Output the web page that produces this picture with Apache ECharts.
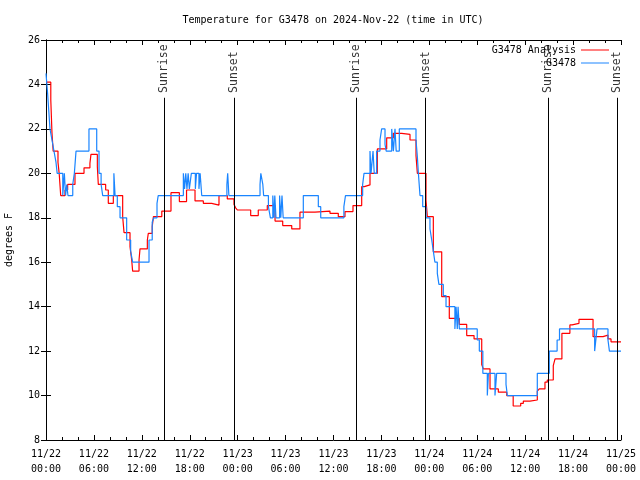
<!DOCTYPE html>
<html><head><meta charset="utf-8">
<script src="https://cdn.jsdelivr.net/npm/echarts@6.0.0/dist/echarts.min.js"></script>
<style>html,body{margin:0;padding:0;background:#fff}#c{width:640px;height:480px}</style>
</head><body><div id="c"></div>
<script>
const FONT = '"DejaVu Sans Mono", "Liberation Mono", monospace';
const titleText = 'Temperature for G3478 on 2024-Nov-22 (time in UTC)';
const xTickLabels = ['11/22\n00:00','11/22\n06:00','11/22\n12:00','11/22\n18:00','11/23\n00:00','11/23\n06:00','11/23\n12:00','11/23\n18:00','11/24\n00:00','11/24\n06:00','11/24\n12:00','11/24\n18:00','11/25\n00:00'];
// hours since 2024-11-22 00:00 UTC
const redT = [0,0.6,0.75,0.9,1.5,1.65,1.84,2.38,2.71,3.63,4.76,5.5,5.63,6.43,6.55,7.47,7.8,8.43,9.6,9.77,10.52,10.73,10.85,11.65,11.77,12.69,12.81,13.3,13.45,14.5,15.65,16.7,17.6,18.66,19.7,20.75,21.66,22.7,23.54,23.75,23.96,25.63,26.58,27.71,28.68,29.64,30.77,31.8,33.68,35.56,36.6,37.44,38.44,39.53,39.85,40.57,41.49,42.66,43.49,44.54,45.58,46.33,46.5,47.58,47.75,48.5,49.55,50.5,51.75,52.68,53.6,54.56,54.76,55.6,56.64,57.69,58.5,59.44,59.77,60.6,61.52,61.77,62.48,62.77,63.52,63.74,64.6,65.6,65.87,66.74,68.5,69.75,70.37,70.75,72];
const redV = [24.1,23.3,21.8,21.0,20.5,20.0,19.0,19.25,19.5,20.0,20.25,20.45,20.85,20.3,19.5,19.25,18.65,19.0,18.05,17.33,16.7,16.1,15.6,16.1,16.6,17.0,17.3,17.6,18.05,18.3,19.13,18.73,19.25,18.76,18.65,18.57,19.0,18.85,18.6,18.45,18.35,18.1,18.35,18.55,17.85,17.65,17.5,18.25,18.3,18.2,18.05,18.28,18.55,19.4,19.48,20.0,21.1,21.6,21.8,21.75,21.5,20.8,20.0,18.8,18.05,16.47,14.45,13.47,13.2,12.7,12.55,11.4,11.2,10.3,10.15,10.0,9.53,9.65,9.75,9.8,10.2,10.3,10.6,10.7,11.35,11.65,12.8,13.18,13.25,13.43,12.65,12.72,12.55,12.42,12.42];
const blueT = [0,0.2,0.35,0.5,0.75,1.0,1.25,1.4,2.1,2.3,2.45,2.6,2.75,3.35,3.55,3.76,5.38,6.35,6.64,6.9,7.1,8.5,8.65,8.93,9.27,10.1,10.6,10.85,12.9,13.3,13.5,13.9,14.05,17.2,17.35,17.5,17.65,17.8,17.95,18.2,18.7,18.85,19.15,19.3,19.5,22.65,22.75,22.9,26.8,26.9,27.15,27.25,27.85,28.1,28.4,28.55,28.65,28.8,29.25,29.4,29.55,29.7,32.22,34.1,34.4,37.3,37.5,39.65,39.82,40.57,40.7,40.95,41.1,41.4,41.82,42.03,42.45,42.6,43.29,43.5,43.7,43.85,44.24,46.33,46.5,46.63,46.83,47.17,47.58,48.08,48.3,48.5,48.7,49.0,49.2,49.75,50.09,51.2,51.35,51.5,51.6,51.76,54.0,54.26,54.7,55.26,55.4,56.22,56.43,57.6,57.77,61.52,63.02,64.0,64.3,68.7,68.85,69.0,70.37,70.55,72];
const blueV = [24.5,23.6,22.8,22.0,21.5,21.0,20.5,20.0,19.0,20.0,19.0,19.5,19.0,19.5,20.0,21.0,22.0,21.0,20.0,19.5,19.0,20.0,19.0,18.5,18.0,17.0,16.5,16.0,17.0,17.8,18.0,18.65,19.0,20.0,19.3,20.0,19.3,20.0,19.3,20.0,19.3,20.0,19.3,20.0,19.0,19.5,20.0,19.0,19.5,20.0,19.5,19.0,18.5,18.0,19.0,18.0,19.0,18.0,19.0,18.0,19.0,18.0,19.0,18.5,18.0,18.5,19.0,19.5,20.0,21.0,20.0,21.0,20.0,21.0,21.5,22.0,21.3,21.0,22.0,21.0,22.0,21.0,22.0,21.5,20.75,20.0,19.0,18.5,18.0,17.5,17.0,16.5,16.0,15.5,15.0,14.5,14.0,13.0,14.0,13.0,14.0,13.0,12.5,12.0,11.0,10.0,11.0,10.0,11.0,10.5,10.0,11.0,12.0,12.5,13.0,12.0,12.5,13.0,12.5,12.0,12.0];
const sunNames = ['Sunrise','Sunset','Sunrise','Sunset','Sunrise','Sunset'];
const sunT = [14.81,23.58,38.86,47.54,62.9,71.56];
const sunLabelY = 23.62, sunLineTop = 23.4;

const txt = {fontFamily: FONT, fontSize: 10, color: '#000'};
const axLine = {show: true, lineStyle: {color: '#000', width: 1}};
const chart = echarts.init(document.getElementById('c'), null, {renderer: 'canvas'});
const xBase = {type: 'value', min: 0, max: 72, interval: 6, axisLine: axLine, splitLine: {show: false},
  axisTick: {show: true, inside: true, length: 5, lineStyle: {color: '#000'}},
  minorTick: {show: true, splitNumber: 3, length: 3, lineStyle: {color: '#000'}}};
const yBase = {type: 'value', min: 8, max: 26, interval: 2, axisLine: axLine, splitLine: {show: false},
  axisTick: {show: true, inside: true, length: 5, lineStyle: {color: '#000'}}};
chart.setOption({
  animation: false,
  backgroundColor: '#fff',
  title: {text: titleText, left: 328, top: 10, textAlign: 'center', textStyle: Object.assign({}, txt, {fontWeight: 'normal'})},
  grid: {left: 46, right: 19, top: 40, bottom: 40, containLabel: false, outerBoundsMode: 'none'},
  legend: [
    {data: [{name: 'G3478 Analysis', icon: 'rect'}], right: 26, top: 40, align: 'right', itemWidth: 28, itemHeight: 1, textStyle: txt},
    {data: [{name: 'G3478', icon: 'rect'}], right: 26, top: 53, align: 'right', itemWidth: 28, itemHeight: 1, textStyle: txt}
  ],
  xAxis: [
    Object.assign({}, xBase, {position: 'bottom', axisLabel: Object.assign({}, txt, {margin: 7, lineHeight: 15, formatter: v => xTickLabels[Math.round(v / 6)]})}),
    Object.assign({}, xBase, {position: 'top', axisLabel: {show: false}})
  ],
  yAxis: [
    Object.assign({}, yBase, {position: 'left', name: 'degrees F', nameLocation: 'middle', nameGap: 32, nameTextStyle: txt, axisLabel: Object.assign({}, txt, {margin: 6})}),
    Object.assign({}, yBase, {position: 'right', axisLabel: {show: false}})
  ],
  series: [
    {name: 'G3478 Analysis', type: 'line', step: 'end', symbol: 'none', color: '#ff0000', lineStyle: {width: 1.2, color: '#ff0000'},
      data: redT.map((t, i) => [t, redV[i]])},
    {name: 'G3478', type: 'line', step: 'end', symbol: 'none', color: '#1a85ff', lineStyle: {width: 1.2, color: '#1a85ff'},
      data: blueT.map((t, i) => [t, blueV[i]])},
    {name: 'sun', type: 'scatter', symbolSize: 0, silent: true,
      data: sunT.map((t, i) => ({value: [t, sunLabelY], name: sunNames[i]})),
      label: Object.assign({}, txt, {fontSize: 11.5, show: true, position: 'inside', rotate: 90, align: 'left', verticalAlign: 'middle', formatter: p => p.name}),
      markLine: {silent: true, symbol: 'none', label: {show: false}, lineStyle: {color: '#000', width: 1, type: 'solid'},
        data: sunT.map(t => [{coord: [t, sunLineTop]}, {coord: [t, 8]}])}}
  ]
});
</script></body></html>
